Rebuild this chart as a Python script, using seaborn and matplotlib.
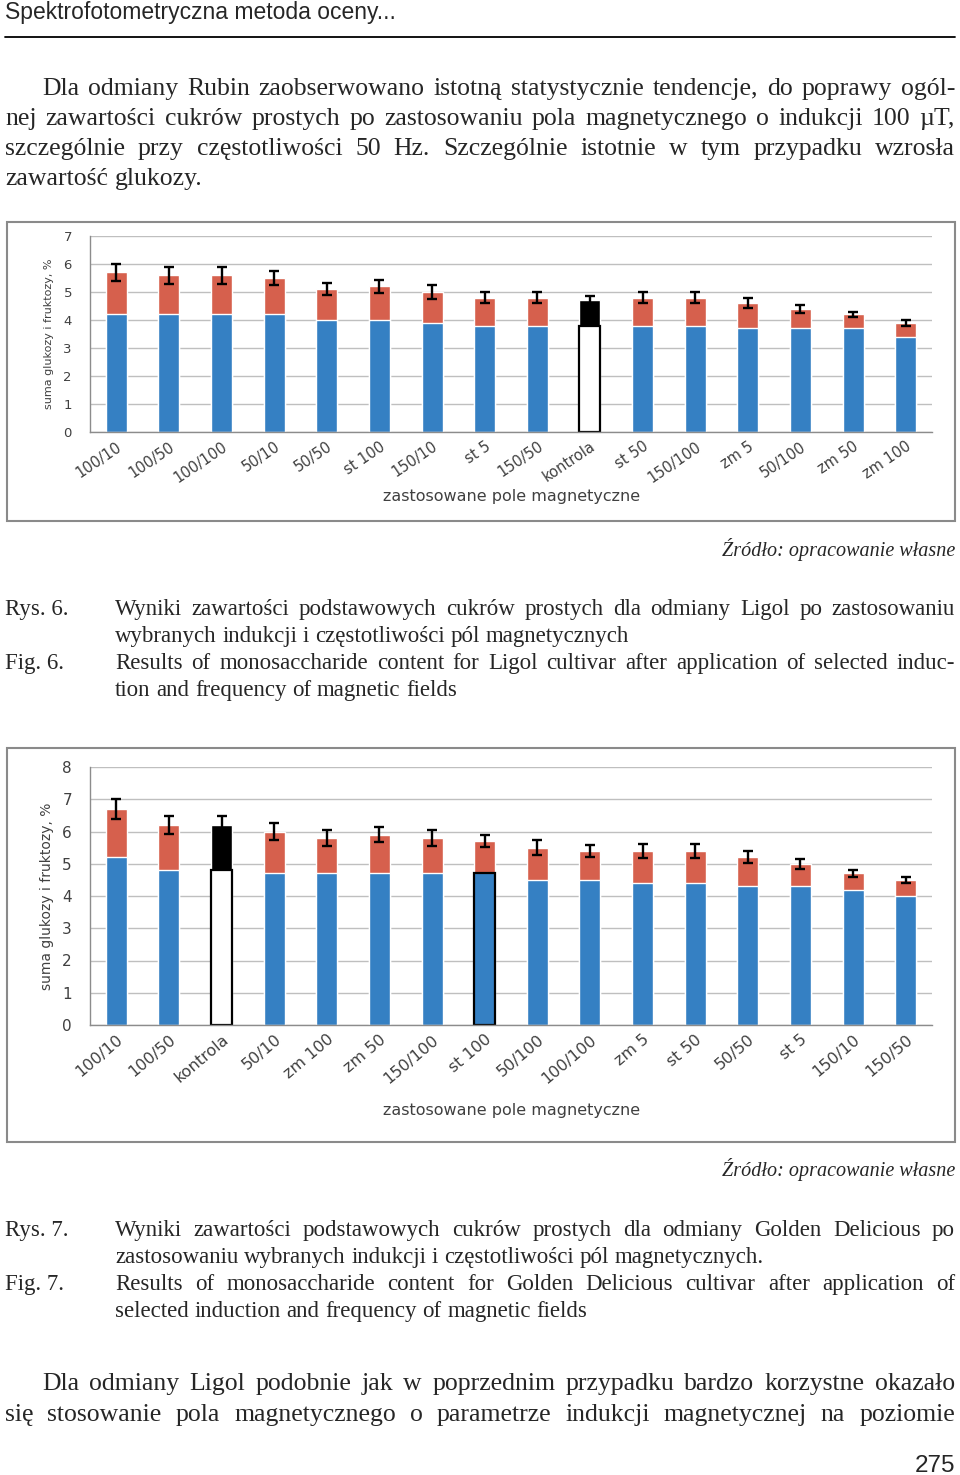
import matplotlib
matplotlib.use('Agg')
import matplotlib.pyplot as plt
import seaborn as sns
import pandas as pd
from matplotlib.patches import Rectangle
from matplotlib.lines import Line2D

W, H = 960, 1475
BLUE = '#3580C3'
RED = '#D6604D'
GRID = '#BFBFBF'
AXC = '#8C8C8C'
TXT = '#404040'

# Rys. 6 - Ligol
ligol_labels = ['100/10', '100/50', '100/100', '50/10', '50/50', 'st 100', '150/10', 'st 5',
                '150/50', 'kontrola', 'st 50', '150/100', 'zm 5', '50/100', 'zm 50', 'zm 100']
ligol_sum = [5.7, 5.6, 5.6, 5.5, 5.1, 5.2, 5.0, 4.8, 4.8, 4.7, 4.8, 4.8, 4.6, 4.4, 4.2, 3.9]
ligol_lower = [4.2, 4.2, 4.2, 4.2, 4.0, 4.0, 3.9, 3.8, 3.8, 3.8, 3.8, 3.8, 3.7, 3.7, 3.7, 3.4]
ligol_err = [0.3, 0.3, 0.3, 0.25, 0.22, 0.24, 0.24, 0.2, 0.2, 0.17, 0.2, 0.2, 0.18, 0.15, 0.08, 0.1]

# Rys. 7 - Golden Delicious
golden_labels = ['100/10', '100/50', 'kontrola', '50/10', 'zm 100', 'zm 50', '150/100', 'st 100',
                 '50/100', '100/100', 'zm 5', 'st 50', '50/50', 'st 5', '150/10', '150/50']
golden_sum = [6.7, 6.2, 6.2, 6.0, 5.8, 5.9, 5.8, 5.7, 5.5, 5.4, 5.4, 5.4, 5.2, 5.0, 4.7, 4.5]
golden_lower = [5.2, 4.8, 4.8, 4.7, 4.7, 4.7, 4.7, 4.7, 4.5, 4.5, 4.4, 4.4, 4.3, 4.3, 4.2, 4.0]
golden_err = [0.3, 0.27, 0.27, 0.26, 0.24, 0.24, 0.24, 0.19, 0.23, 0.19, 0.21, 0.21, 0.19, 0.15, 0.1, 0.1]

sns.set_theme(style='white')
fig = plt.figure(figsize=(W / 100, H / 100), dpi=100)
fig.patch.set_facecolor('white')
renderer = fig.canvas.get_renderer()


def fx(x):
    return x / W


def fy(y):
    return 1 - y / H


def put_line(text, y, x0=5, x1=955, justify=True, **kw):
    words = text.split(' ')
    arts = [fig.text(0, 0, w, va='baseline', ha='left', **kw) for w in words]
    widths = [a.get_window_extent(renderer).width for a in arts]
    if justify and len(words) > 1:
        gap = (x1 - x0 - sum(widths)) / (len(words) - 1)
    else:
        gap = kw.get('size', 12) * 100 / 72 * 0.25
    x = x0
    for a, w in zip(arts, widths):
        a.set_position((fx(x), fy(y)))
        x += w + gap


def draw_chart(frame, box, labels, total, lower, err, ymax, tick_size, lab_size, xlab_y, rot, xt_size):
    fig.add_artist(Rectangle((fx(frame[0]), fy(frame[3])), (frame[2] - frame[0]) / W,
                             (frame[3] - frame[1]) / H, transform=fig.transFigure,
                             fill=False, edgecolor='#8A8A8A', lw=1.5))
    ax = fig.add_axes([fx(box[0]), fy(box[3]), (box[2] - box[0]) / W, (box[3] - box[1]) / H])
    df = pd.DataFrame({'pole': labels, 'suma': total, 'dolna': lower})
    sns.barplot(data=df, x='pole', y='suma', color=RED, saturation=1, width=0.4,
                errorbar=None, ax=ax, zorder=2)
    sns.barplot(data=df, x='pole', y='dolna', color=BLUE, saturation=1, width=0.4,
                errorbar=None, ax=ax, zorder=2)
    n = len(labels)
    ax.errorbar(range(n), total, yerr=err, fmt='none', ecolor='black', elinewidth=1.7,
                capsize=3.8, capthick=1.7, zorder=4)
    k = labels.index('kontrola')
    ax.patches[k].set_facecolor('black')
    ax.patches[n + k].set_facecolor('white')
    ax.patches[n + k].set_edgecolor('black')
    ax.patches[n + k].set_linewidth(1.6)

    ax.set_xlim(-0.5, n - 0.5)
    ax.set_ylim(0, ymax)
    ax.set_yticks(range(ymax + 1))
    ax.yaxis.grid(True, color=GRID, lw=1)
    ax.set_axisbelow(True)
    for s in ['top', 'right']:
        ax.spines[s].set_visible(False)
    for s in ['left', 'bottom']:
        ax.spines[s].set_color(AXC)
        ax.spines[s].set_linewidth(1)
    ax.tick_params(axis='y', length=4, color=AXC, pad=9, labelsize=tick_size, labelcolor=TXT)
    ax.set_xticks(range(n))
    ax.set_xticklabels(labels, rotation=rot, ha='right', rotation_mode='anchor',
                       fontsize=xt_size, color=TXT)
    ax.tick_params(axis='x', which='major', length=0, pad=5)
    ax.set_xticks([i - 0.5 for i in range(n + 1)], minor=True)
    ax.tick_params(axis='x', which='minor', length=5, color=AXC)
    ax.set_xlabel('zastosowane pole magnetyczne', fontsize=11.5, color=TXT, va='center')
    ax.xaxis.set_label_coords(0.501, -(xlab_y - box[3]) / (box[3] - box[1]))
    ax.set_ylabel('suma glukozy i fruktozy, %', fontsize=lab_size, color=TXT)
    ax.yaxis.set_label_coords(-0.043, 0.5)
    return ax


# header
fig.text(fx(5), fy(19), 'Spektrofotometryczna metoda oceny...', family='Liberation Sans', size=16.5)
fig.add_artist(Line2D([fx(5), fx(955)], [fy(37), fy(37)], color='black', lw=1.3))

body = dict(family='Liberation Serif', size=18.5)
put_line('Dla odmiany Rubin zaobserwowano istotną statystycznie tendencje, do poprawy ogól-', 95, x0=42, **body)
put_line('nej zawartości cukrów prostych po zastosowaniu pola magnetycznego o indukcji 100 µT,', 125, **body)
put_line('szczególnie przy częstotliwości 50 Hz. Szczególnie istotnie w tym przypadku wzrosła', 155, **body)
put_line('zawartość glukozy.', 185, justify=False, **body)

ax1 = draw_chart((7, 222, 955, 521), (90, 236, 932, 432), ligol_labels, ligol_sum, ligol_lower,
                 ligol_err, 7, 9.5, 8, 497, 34, 10.5)
ax2 = draw_chart((7, 748, 955, 1142), (90, 767, 932, 1025), golden_labels, golden_sum, golden_lower,
                 golden_err, 8, 11, 10, 1110, 40, 11.5)
st = golden_labels.index('st 100')
ax2.patches[len(golden_labels) + st].set_edgecolor('black')
ax2.patches[len(golden_labels) + st].set_linewidth(1.6)

src = dict(family='Liberation Serif', size=14.5, style='italic', ha='right', va='baseline')
fig.text(fx(955), fy(556), 'Źródło: opracowanie własne', **src)
fig.text(fx(955), fy(1176), 'Źródło: opracowanie własne', **src)

cap = dict(family='Liberation Serif', size=16.5)
fig.text(fx(5), fy(615), 'Rys. 6.', va='baseline', **cap)
put_line('Wyniki zawartości podstawowych cukrów prostych dla odmiany Ligol po zastosowaniu', 615, x0=115, **cap)
put_line('wybranych indukcji i częstotliwości pól magnetycznych', 642, x0=115, justify=False, **cap)
fig.text(fx(5), fy(669), 'Fig. 6.', va='baseline', **cap)
put_line('Results of monosaccharide content for Ligol cultivar after application of selected induc-', 669, x0=115, **cap)
put_line('tion and frequency of magnetic fields', 696, x0=115, justify=False, **cap)

fig.text(fx(5), fy(1236), 'Rys. 7.', va='baseline', **cap)
put_line('Wyniki zawartości podstawowych cukrów prostych dla odmiany Golden Delicious po', 1236, x0=115, **cap)
put_line('zastosowaniu wybranych indukcji i częstotliwości pól magnetycznych.', 1263, x0=115, justify=False, **cap)
fig.text(fx(5), fy(1290), 'Fig. 7.', va='baseline', **cap)
put_line('Results of monosaccharide content for Golden Delicious cultivar after application of', 1290, x0=115, **cap)
put_line('selected induction and frequency of magnetic fields', 1317, x0=115, justify=False, **cap)

put_line('Dla odmiany Ligol podobnie jak w poprzednim przypadku bardzo korzystne okazało', 1390, x0=42, **body)
put_line('się stosowanie pola magnetycznego o parametrze indukcji magnetycznej na poziomie', 1421, **body)

fig.text(fx(955), fy(1472), '275', family='Liberation Sans', size=17.5, ha='right', va='baseline')

fig.savefig('out.png', dpi=100, facecolor='white')
